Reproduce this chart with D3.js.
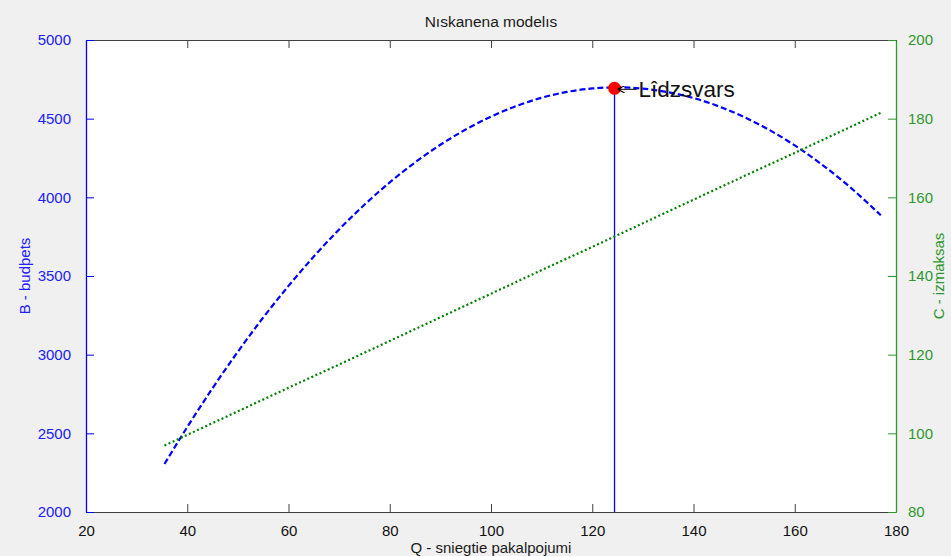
<!DOCTYPE html>
<html>
<head>
<meta charset="utf-8">
<script src="https://cdn.jsdelivr.net/npm/d3@7"></script>
<style>
  body { margin: 0; background: #f0f0f0; }
  svg { display: block; font-family: 'Liberation Sans', Arial, sans-serif; }
</style>
</head>
<body>
<script>
// Q - sniegtie pakalpojumi
const quantity = [35.5, 40, 45, 50, 55, 60, 65, 70, 75, 80, 85, 90, 95, 100, 105, 110, 115, 120, 125, 130, 135, 140, 145, 150, 155, 160, 165, 170, 177]
// B - budzets (left axis)
const budget = [2305, 2540, 2787, 3019, 3236, 3437, 3624, 3796, 3953, 4095, 4222, 4334, 4431, 4513, 4580, 4633, 4670, 4692, 4699, 4691, 4668, 4631, 4578, 4510, 4428, 4330, 4217, 4090, 3886]

// C - izmaksas (right axis)
const costQ = [35.5, 40, 50, 60, 70, 80, 90, 100, 110, 120, 130, 140, 150, 160, 170, 177]
const cost = [96.9, 99.6, 105.6, 111.6, 117.5, 123.5, 129.5, 135.5, 141.5, 147.4, 153.4, 159.4, 165.4, 171.3, 177.3, 181.5]

// equilibrium point
const eqQ = 124.4
const eqB = 4693

const xTicks = [20, 40, 60, 80, 100, 120, 140, 160, 180]
const leftTicks = [2000, 2500, 3000, 3500, 4000, 4500, 5000]
const rightTicks = [80, 100, 120, 140, 160, 180, 200]

const width = 951
const height = 556
const margin = { top: 40, right: 55, bottom: 44, left: 86 }

const blue = '#0000ff'
const green = '#008000'
const greenText = '#2f962f'

const svg = d3.select('body')
  .append('svg')
  .attr('width', width)
  .attr('height', height)

const x = d3.scaleLinear().domain([20, 180]).range([margin.left, width - margin.right])
const yL = d3.scaleLinear().domain([2000, 5000]).range([height - margin.bottom, margin.top])
const yR = d3.scaleLinear().domain([80, 200]).range([height - margin.bottom, margin.top])

// plot area
svg.append('rect')
  .attr('x', x(20))
  .attr('y', yL(5000))
  .attr('width', x(180) - x(20))
  .attr('height', yL(2000) - yL(5000))
  .attr('fill', '#fff')

// title
svg.append('text')
  .attr('x', (x(20) + x(180)) / 2)
  .attr('y', 27)
  .attr('text-anchor', 'middle')
  .attr('font-size', 15.5)
  .attr('fill', '#1a1a1a')
  .text('Nıskanena modelıs')

// bottom axis
const xAxisBottom = svg.append('g')
  .attr('transform', `translate(0,${yL(2000)})`)
  .call(d3.axisBottom(x).tickValues(xTicks).tickSizeInner(-8).tickSizeOuter(0).tickPadding(13))
xAxisBottom.select('.domain').attr('stroke', '#404040')
xAxisBottom.selectAll('.tick line').attr('stroke', '#404040')
xAxisBottom.selectAll('.tick text').attr('font-size', 15).attr('fill', '#111').attr('font-family', null)

// top axis (box edge)
const xAxisTop = svg.append('g')
  .attr('transform', `translate(0,${yL(5000)})`)
  .call(d3.axisTop(x).tickValues(xTicks).tickSizeInner(-8).tickSizeOuter(0).tickFormat(''))
xAxisTop.select('.domain').attr('stroke', '#404040')
xAxisTop.selectAll('.tick line').attr('stroke', '#404040')

// left axis
const yAxisLeft = svg.append('g')
  .attr('transform', `translate(${x(20)},0)`)
  .call(d3.axisLeft(yL).tickValues(leftTicks).tickSizeInner(-8).tickSizeOuter(0).tickPadding(15).tickFormat(d3.format('d')))
yAxisLeft.select('.domain').attr('stroke', blue).attr('stroke-width', 1.3)
yAxisLeft.selectAll('.tick line').attr('stroke', blue)
yAxisLeft.selectAll('.tick text').attr('font-size', 15).attr('fill', '#2020ff').attr('font-family', null)

// right axis
const yAxisRight = svg.append('g')
  .attr('transform', `translate(${x(180)},0)`)
  .call(d3.axisRight(yR).tickValues(rightTicks).tickSizeInner(-8).tickSizeOuter(0).tickPadding(12))
yAxisRight.select('.domain').attr('stroke', '#2a9a2a').attr('stroke-width', 1.3)
yAxisRight.selectAll('.tick line').attr('stroke', '#2a9a2a')
yAxisRight.selectAll('.tick text').attr('font-size', 15).attr('fill', greenText).attr('font-family', null)

// axis labels
svg.append('text')
  .attr('transform', `translate(30,${(yL(2000) + yL(5000)) / 2}) rotate(-90)`)
  .attr('text-anchor', 'middle')
  .attr('font-size', 15)
  .attr('fill', '#2020ff')
  .text('B - budþets')

svg.append('text')
  .attr('transform', `translate(944,${(yL(2000) + yL(5000)) / 2}) rotate(-90)`)
  .attr('text-anchor', 'middle')
  .attr('font-size', 15)
  .attr('fill', greenText)
  .text('C - izmaksas')

svg.append('text')
  .attr('x', (x(20) + x(180)) / 2)
  .attr('y', 553)
  .attr('text-anchor', 'middle')
  .attr('font-size', 15)
  .attr('fill', '#1a1a1a')
  .text('Q - sniegtie pakalpojumi')

// vertical equilibrium line
svg.append('line')
  .attr('x1', x(eqQ))
  .attr('x2', x(eqQ))
  .attr('y1', yL(eqB))
  .attr('y2', yL(2000))
  .attr('stroke', blue)
  .attr('stroke-width', 1.3)

// budget curve
const budgetLine = d3.line()
  .x((d, i) => x(quantity[i]))
  .y(d => yL(d))
  .curve(d3.curveMonotoneX)

svg.append('path')
  .datum(budget)
  .attr('d', budgetLine)
  .attr('fill', 'none')
  .attr('stroke', blue)
  .attr('stroke-width', 2.2)
  .attr('stroke-dasharray', '6,3')

// cost curve
const costLine = d3.line()
  .x((d, i) => x(costQ[i]))
  .y(d => yR(d))

svg.append('path')
  .datum(cost)
  .attr('d', costLine)
  .attr('fill', 'none')
  .attr('stroke', green)
  .attr('stroke-width', 2.2)
  .attr('stroke-dasharray', '2,2.5')

// equilibrium marker
svg.append('circle')
  .attr('cx', x(eqQ))
  .attr('cy', yL(eqB))
  .attr('r', 6.5)
  .attr('fill', '#ff0000')

// arrow + label
svg.append('defs').append('marker')
  .attr('id', 'arrow')
  .attr('viewBox', '0 0 10 10')
  .attr('refX', 10)
  .attr('refY', 5)
  .attr('markerWidth', 7)
  .attr('markerHeight', 7)
  .attr('orient', 'auto')
  .append('path')
  .attr('d', 'M0,0 L10,5 L0,10')
  .attr('fill', 'none')
  .attr('stroke', '#000')
  .attr('stroke-width', 1.5)

svg.append('line')
  .attr('x1', x(eqQ) + 22)
  .attr('y1', yL(eqB) + 1)
  .attr('x2', x(eqQ) + 3)
  .attr('y2', yL(eqB) + 1)
  .attr('stroke', '#000')
  .attr('stroke-width', 1)
  .attr('marker-end', 'url(#arrow)')

svg.append('text')
  .attr('x', x(eqQ) + 24)
  .attr('y', yL(eqB) + 9)
  .attr('font-size', 22.5)
  .attr('fill', '#111')
  .text('Lîdzsvars')
</script>
</body>
</html>
